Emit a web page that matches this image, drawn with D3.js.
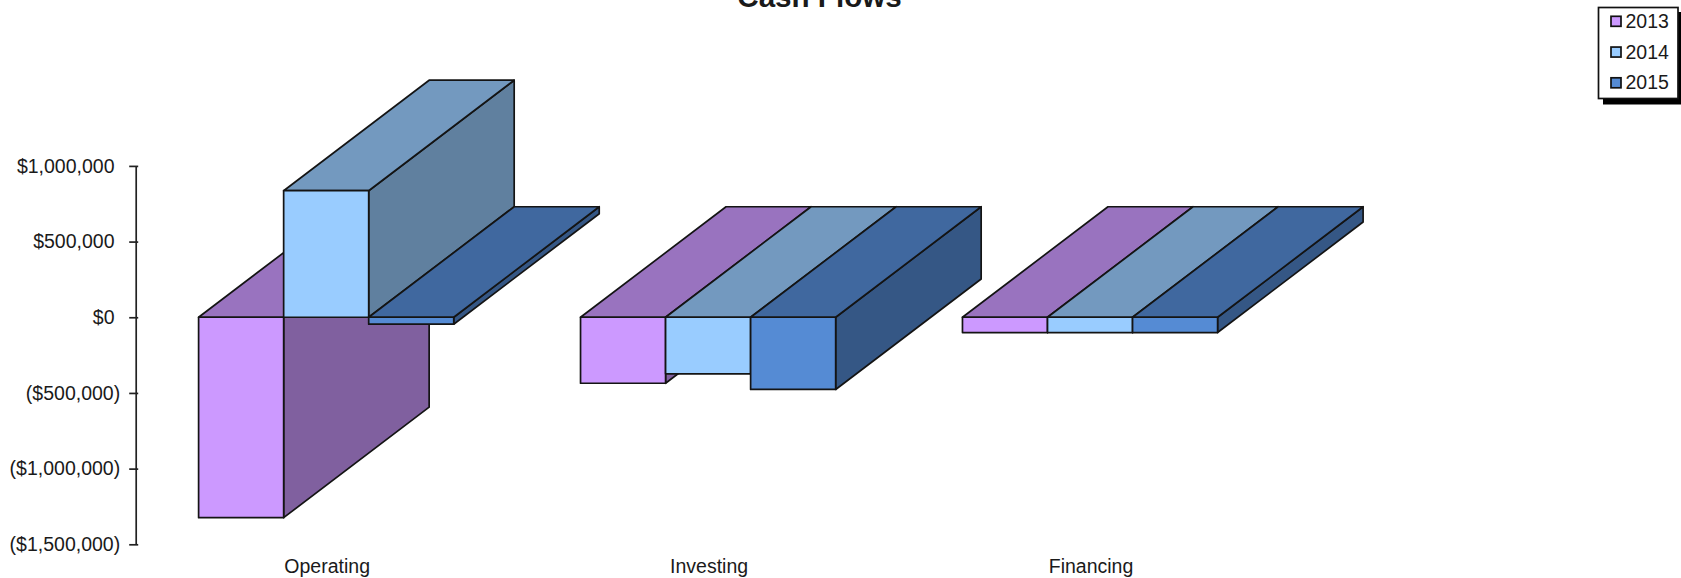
<!DOCTYPE html>
<html>
<head>
<meta charset="utf-8">
<script src="https://cdn.jsdelivr.net/npm/d3@7/dist/d3.min.js"></script>
<style>
  html, body { margin: 0; padding: 0; background: #fff; overflow: hidden; }
  svg { display: block; }
  text { font-family: "Liberation Sans", Arial, sans-serif; fill: #1a1a1a; }
</style>
</head>
<body>
<svg id="chart" width="1681" height="578"></svg>
<script>
// Cash flow figures by activity, one array per year
const categories = ["Operating", "Investing", "Financing"];
const years = ["2013", "2014", "2015"];
const values2013 = [-1324000, -436000, -101000];
const values2014 = [836000, -374000, -101000];
const values2015 = [-46000, -477000, -101000];
const yearValues = [values2013, values2014, values2015];
const tickValues = [1000000, 500000, 0, -500000, -1000000, -1500000];
const frontColors = ["#CC99FF", "#99CCFF", "#558BD4"];

const svg = d3.select("#chart");

// Scales
const y = d3.scaleLinear().domain([-1500000, 1000000]).range([544.3, 165.9]);
const xGroup = d3.scaleBand().domain(categories).range([198.6, 1217.6])
  .paddingInner(0.332).paddingOuter(0);
const xBar = d3.scaleBand().domain(years).range([0, xGroup.bandwidth()]);

// Extrusion vector of the pseudo-3D bars
const depthX = 145.5, depthY = -110.5;

const shade = (c, k) => {
  const r = d3.rgb(c);
  return d3.rgb(r.r * k, r.g * k, r.b * k).formatHex();
};
const poly = pts => pts.map(p => p.join(",")).join(" ");

// Bars are painted back to front, group by group, series by series
const marks = svg.append("g").attr("stroke", "#141414").attr("stroke-width", 1.7)
  .attr("stroke-linejoin", "round");

categories.forEach((cat, ci) => {
  years.forEach((yr, si) => {
    const x0 = xGroup(cat) + xBar(yr);
    const x1 = x0 + xBar.bandwidth();
    const yTop = y(Math.max(0, yearValues[si][ci]));
    const yBot = y(Math.min(0, yearValues[si][ci]));
    const col = frontColors[si];
    const bar = marks.append("g").attr("class", "bar");
    // right side
    bar.append("polygon").attr("fill", shade(col, 0.625)).attr("points", poly([
      [x1, yTop], [x1 + depthX, yTop + depthY], [x1 + depthX, yBot + depthY], [x1, yBot]
    ]));
    // top
    bar.append("polygon").attr("fill", shade(col, 0.75)).attr("points", poly([
      [x0, yTop], [x0 + depthX, yTop + depthY], [x1 + depthX, yTop + depthY], [x1, yTop]
    ]));
    // front
    bar.append("polygon").attr("fill", col).attr("points", poly([
      [x0, yTop], [x1, yTop], [x1, yBot], [x0, yBot]
    ]));
  });
});

// Value axis
const money = v => v < 0
  ? "($" + d3.format(",")(-v) + ")"
  : "$" + d3.format(",")(v);
const axis = svg.append("g").attr("transform", "translate(135.7,0)")
  .call(d3.axisLeft(y).tickValues(tickValues).tickFormat(money).tickSizeOuter(0));
axis.select(".domain").attr("stroke", "#222").attr("stroke-width", 1.7);
axis.selectAll(".tick line").attr("x1", -6.5).attr("x2", 2.5)
  .attr("stroke", "#222").attr("stroke-width", 1.7);
axis.selectAll(".tick text")
  .attr("font-size", 19.5).attr("font-family", null)
  .attr("x", d => d < 0 ? -15.5 : -21.2);

// Category labels
svg.append("g").selectAll("text").data(categories).join("text")
  .attr("x", d => xGroup(d) + xGroup.bandwidth() / 2 + 1)
  .attr("y", 573)
  .attr("text-anchor", "middle")
  .attr("font-size", 19.5)
  .text(d => d);

// Title, sitting against the top edge of the page
svg.append("text").attr("x", 819.5).attr("y", 6.5)
  .attr("text-anchor", "middle").attr("font-size", 29.6).attr("font-weight", "bold")
  .text("Cash Flows");

// Legend box with hard drop shadow
const legend = svg.append("g");
legend.append("rect").attr("x", 1603).attr("y", 12).attr("width", 80).attr("height", 92.5).attr("fill", "#000");
legend.append("rect").attr("x", 1598.5).attr("y", 7.5).attr("width", 79.5).attr("height", 91)
  .attr("fill", "#fff").attr("stroke", "#111").attr("stroke-width", 1.7);
const legendRow = d3.scalePoint().domain(years).range([21.3, 82.8]);
const rows = legend.selectAll("g.row").data(years).join("g").attr("class", "row")
  .attr("transform", d => `translate(0,${legendRow(d)})`);
rows.append("rect").attr("x", 1611).attr("y", -5).attr("width", 10).attr("height", 10)
  .attr("fill", (d, i) => frontColors[i]).attr("stroke", "#111").attr("stroke-width", 1.7);
rows.append("text").attr("x", 1625.5).attr("y", 6.6).attr("font-size", 19.5).text(d => d);
</script>
</body>
</html>
